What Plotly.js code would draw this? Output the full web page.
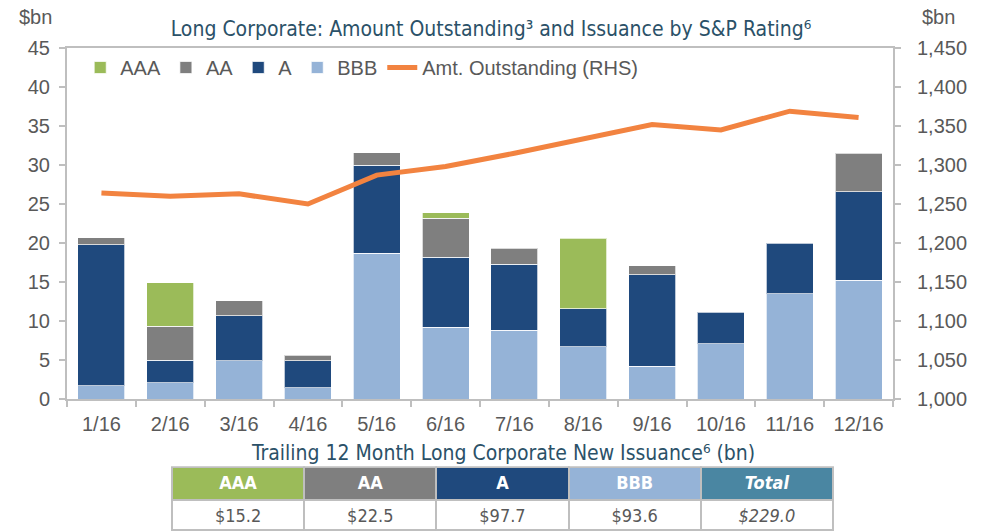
<!DOCTYPE html>
<html>
<head>
<meta charset="utf-8">
<script src="https://cdn.plot.ly/plotly-3.0.1.min.js"></script>
<style>html,body{margin:0;padding:0;background:#fff;}#chart{width:988px;height:532px;}</style>
</head>
<body>
<div id="chart"></div>
<script>
// ---- data ----
const months = ['1/16','2/16','3/16','4/16','5/16','6/16','7/16','8/16','9/16','10/16','11/16','12/16'];
const aaa = [null,5.6,null,null,null,0.7,null,9.0,null,null,null,null];
const aa  = [0.9,4.3,1.9,0.7,1.6,4.95,2.05,null,1.2,null,null,4.9];
const aRated = [18.1,2.9,5.8,3.45,11.3,9.0,8.45,4.9,11.7,4.05,6.5,11.35];
const bbb = [1.7,2.1,4.9,1.45,18.7,9.2,8.8,6.7,4.2,7.1,13.5,15.25];
const outstanding = [1264,1260,1263,1250,1287,1298,1315,1333,1352,1345,1369,1361];
const tableHeaders = ['AAA','AA','A','BBB','Total'];
const tableValues = ['$15.2','$22.5','$97.7','$93.6','$229.0'];

// ---- styles ----
const C = {aaa:'#9bbb59', aa:'#7f7f7f', a:'#1f497d', bbb:'#95b3d7', line:'#f28340', total:'#4a86a2'};
const sans = '"Liberation Sans", Arial, sans-serif';
const tickFont = {family:sans, size:20, color:'#595959'};
const narrow = '"DejaVu Sans Condensed", "Liberation Sans Narrow", "Liberation Sans", sans-serif';
const titleColor = '#2b5168';
const barLine = {color:'rgba(255,255,255,0.7)', width:1};
const colStyle = ['normal','normal','normal','normal','italic'];

const traces = [
  {type:'bar', name:'BBB', x:months, y:bbb, marker:{color:C.bbb, line:barLine}, legendrank:4},
  {type:'bar', name:'A', x:months, y:aRated, marker:{color:C.a, line:barLine}, legendrank:3},
  {type:'bar', name:'AA', x:months, y:aa, marker:{color:C.aa, line:barLine}, legendrank:2},
  {type:'bar', name:'AAA', x:months, y:aaa, marker:{color:C.aaa, line:barLine}, legendrank:1},
  {type:'scatter', mode:'lines', name:'Amt. Outstanding (RHS)', x:months, y:outstanding, yaxis:'y2',
   line:{color:C.line, width:5}, legendrank:5},
  {type:'table', domain:{x:[0.1271,0.9274], y:[0,0.134]}, columnwidth:[1,1,1,1,1],
   header:{values:tableHeaders.map(v=>[v]), align:'center', height:33,
     fill:{color:[C.aaa,C.aa,C.a,C.bbb,C.total]},
     line:{color:'#bfbfbf', width:2},
     font:{family:narrow, size:18, color:'#ffffff', weight:'bold', style:colStyle}},
   cells:{values:tableValues.map(v=>[v]), align:'center', height:30,
     fill:{color:'#ffffff'}, line:{color:'#bfbfbf', width:2},
     font:{family:narrow, size:18, color:'#595959', style:colStyle}}}
];

const layout = {
  width:988, height:532,
  margin:{l:67, r:95, t:48, b:0},
  paper_bgcolor:'#fff', plot_bgcolor:'#fff',
  barmode:'stack', bargap:0.317,
  showlegend:true,
  legend:{orientation:'h', x:0.016, y:1.0, xanchor:'left', yanchor:'top',
    font:{family:sans, size:20, color:'#595959'},
    bgcolor:'rgba(0,0,0,0)', traceorder:'normal'},
  title:{text:'Long Corporate: Amount Outstanding³ and Issuance by S&P Rating⁶',
    x:0.497, xanchor:'center', y:0.946, yanchor:'middle',
    font:{family:narrow, size:21, color:titleColor}},
  xaxis:{type:'category', domain:[0,1], showline:true, linecolor:'#bfbfbf', linewidth:2,
    mirror:true, ticks:'outside', tickson:'boundaries', ticklen:6, tickcolor:'#bfbfbf', tickwidth:2,
    tickfont:tickFont, showgrid:false, zeroline:false, fixedrange:true, ticklabelstandoff:6},
  yaxis:{domain:[0.2748,1], range:[0,45], dtick:5, showline:true, linecolor:'#bfbfbf', linewidth:2,
    ticks:'outside', ticklen:6, tickcolor:'#bfbfbf', tickwidth:2, tickfont:tickFont,
    showgrid:false, zeroline:false, ticklabelstandoff:5},
  yaxis2:{overlaying:'y', side:'right', range:[1000,1450], dtick:50, tickformat:',',
    showline:true, linecolor:'#bfbfbf', linewidth:2, ticks:'outside', ticklen:6,
    tickcolor:'#bfbfbf', tickwidth:2, tickfont:tickFont, showgrid:false, zeroline:false,
    ticklabelstandoff:12},
  annotations:[
    {text:'$bn', xref:'paper', yref:'paper', x:-0.0387, y:1.064, showarrow:false,
     xanchor:'center', yanchor:'middle', font:tickFont},
    {text:'$bn', xref:'paper', yref:'paper', x:1.0545, y:1.064, showarrow:false,
     xanchor:'center', yanchor:'middle', font:tickFont},
    {text:'Trailing 12 Month Long Corporate New Issuance⁶ (bn)', xref:'paper', yref:'paper',
     x:0.528, y:0.163, showarrow:false, xanchor:'center', yanchor:'middle',
     font:{family:narrow, size:21, color:titleColor}}
  ]
};

Plotly.newPlot('chart', traces, layout, {displayModeBar:false, staticPlot:true});
</script>
</body>
</html>
